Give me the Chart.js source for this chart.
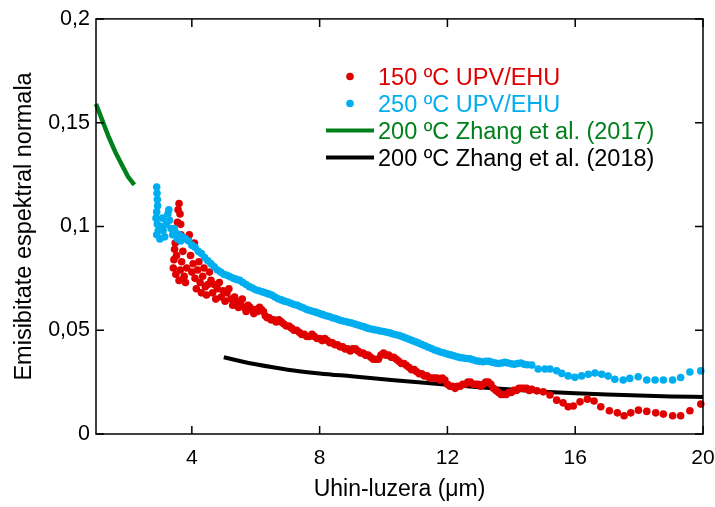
<!DOCTYPE html>
<html>
<head>
<meta charset="utf-8">
<script src="https://cdn.jsdelivr.net/npm/chart.js@4/dist/chart.umd.min.js"></script>
<style>
  html, body { margin: 0; padding: 0; background: #fff; }
  #wrap { width: 715px; height: 507px; }
</style>
</head>
<body>
<div id="wrap"><canvas id="emisChart"></canvas></div>
<script>
// values, [wavelength (um), emissivity]
const red150 = [
  [3.42, 0.080], [3.44, 0.084], [3.46, 0.089], [3.48, 0.092], [3.50, 0.077], [3.52, 0.086],
  [3.55, 0.102], [3.57, 0.108], [3.60, 0.111], [3.63, 0.106], [3.65, 0.101], [3.66, 0.096],
  [3.60, 0.074], [3.64, 0.079], [3.68, 0.083], [3.72, 0.088], [3.76, 0.076], [3.80, 0.073],
  [3.84, 0.080], [3.88, 0.094], [3.92, 0.096], [3.96, 0.086], [4.00, 0.078], [4.04, 0.082],
  [4.08, 0.092], [4.10, 0.075], [4.14, 0.070], [4.18, 0.079], [4.22, 0.083], [4.26, 0.073],
  [4.30, 0.068], [4.34, 0.076], [4.38, 0.080], [4.42, 0.071], [4.46, 0.067], [4.50, 0.072],
  [4.55, 0.078], [4.60, 0.074], [4.65, 0.068], [4.70, 0.072], [4.75, 0.065], [4.80, 0.070],
  [4.86, 0.073], [4.92, 0.066], [4.98, 0.069], [5.04, 0.064], [5.10, 0.068], [5.16, 0.070],
  [5.22, 0.065], [5.28, 0.062], [5.34, 0.066], [5.40, 0.064], [5.46, 0.061], [5.52, 0.063],
  [5.58, 0.065], [5.64, 0.061], [5.70, 0.059], [5.76, 0.062], [5.82, 0.061], [5.88, 0.060],
  [5.94, 0.058], [6.00, 0.060], [6.06, 0.059], [6.12, 0.061], [6.18, 0.060], [6.24, 0.059],
  [6.30, 0.057], [6.36, 0.056], [6.42, 0.056], [6.48, 0.055], [6.56, 0.055], [6.64, 0.054],
  [6.72, 0.055], [6.80, 0.054], [6.88, 0.053], [6.96, 0.052], [7.04, 0.052], [7.12, 0.051],
  [7.20, 0.050], [7.28, 0.050], [7.36, 0.049], [7.44, 0.048], [7.52, 0.048], [7.60, 0.047],
  [7.68, 0.047], [7.76, 0.048], [7.84, 0.047], [7.92, 0.046], [8.00, 0.046], [8.08, 0.045],
  [8.16, 0.046], [8.24, 0.045], [8.32, 0.044], [8.40, 0.044], [8.48, 0.043], [8.56, 0.043],
  [8.64, 0.042], [8.72, 0.042], [8.80, 0.041], [8.88, 0.041], [8.96, 0.040], [9.04, 0.041],
  [9.12, 0.041], [9.20, 0.040], [9.28, 0.039], [9.36, 0.039], [9.44, 0.038], [9.52, 0.038],
  [9.60, 0.037], [9.68, 0.036], [9.76, 0.036], [9.84, 0.036], [9.92, 0.038], [10.00, 0.039],
  [10.08, 0.038], [10.16, 0.038], [10.24, 0.037], [10.32, 0.037], [10.40, 0.036], [10.48, 0.035],
  [10.56, 0.034], [10.64, 0.034], [10.72, 0.033], [10.80, 0.032], [10.88, 0.031], [10.96, 0.031],
  [11.04, 0.030], [11.12, 0.029], [11.20, 0.029], [11.28, 0.028], [11.36, 0.028], [11.44, 0.027],
  [11.52, 0.027], [11.60, 0.027], [11.68, 0.027], [11.76, 0.026], [11.84, 0.027], [11.92, 0.026],
  [12.00, 0.024], [12.08, 0.023], [12.16, 0.023], [12.24, 0.022], [12.32, 0.023], [12.40, 0.023],
  [12.48, 0.024], [12.56, 0.024], [12.64, 0.025], [12.72, 0.025], [12.80, 0.024], [12.88, 0.024],
  [12.96, 0.024], [13.04, 0.023], [13.12, 0.024], [13.20, 0.025], [13.28, 0.025], [13.36, 0.024],
  [13.44, 0.022], [13.52, 0.021], [13.60, 0.020], [13.68, 0.019], [13.76, 0.019], [13.84, 0.019],
  [13.92, 0.020], [14.00, 0.020], [14.08, 0.021], [14.16, 0.021], [14.24, 0.022], [14.32, 0.022],
  [14.40, 0.022], [14.48, 0.022], [14.56, 0.021],
  [14.64, 0.0215], [14.80, 0.0208], [15.00, 0.0203], [15.21, 0.0188], [15.42, 0.0163],
  [15.62, 0.0150], [15.78, 0.0131], [15.94, 0.0135], [16.15, 0.0155], [16.38, 0.0168],
  [16.59, 0.0159], [16.80, 0.0131], [17.07, 0.0112], [17.32, 0.0102], [17.53, 0.0088],
  [17.74, 0.0102], [17.98, 0.0115], [18.24, 0.0109], [18.52, 0.0102], [18.76, 0.0096],
  [19.05, 0.0088], [19.30, 0.0088], [19.59, 0.0112], [19.93, 0.0144]
];

const blue250 = [
  [2.90, 0.119], [2.91, 0.116], [2.92, 0.113], [2.93, 0.110], [2.90, 0.107], [2.88, 0.104],
  [2.92, 0.101], [2.95, 0.098], [2.90, 0.096], [3.00, 0.094], [3.05, 0.100], [3.08, 0.104],
  [3.10, 0.098], [3.15, 0.095], [3.20, 0.101], [3.25, 0.106], [3.28, 0.108], [3.30, 0.103],
  [3.35, 0.099], [3.40, 0.096], [3.45, 0.099], [3.50, 0.097], [3.55, 0.094], [3.60, 0.096],
  [3.65, 0.093], [3.70, 0.095], [3.80, 0.094], [3.90, 0.093], [4.00, 0.091], [4.10, 0.090],
  [4.20, 0.088], [4.30, 0.087], [4.40, 0.085], [4.50, 0.0835], [4.60, 0.082], [4.70, 0.0805],
  [4.80, 0.079], [4.90, 0.078], [5.00, 0.077], [5.10, 0.0765], [5.20, 0.0758], [5.30, 0.075],
  [5.40, 0.0745], [5.50, 0.074], [5.60, 0.073], [5.70, 0.072], [5.80, 0.071], [5.90, 0.0703],
  [6.00, 0.0695], [6.10, 0.069], [6.20, 0.0685], [6.30, 0.068], [6.40, 0.0675], [6.50, 0.067],
  [6.60, 0.066], [6.70, 0.0652], [6.80, 0.0646], [6.90, 0.064], [7.00, 0.0636], [7.10, 0.063],
  [7.20, 0.0624], [7.30, 0.062], [7.40, 0.0613], [7.50, 0.0607], [7.60, 0.060], [7.70, 0.0595],
  [7.80, 0.059], [7.90, 0.0586], [8.00, 0.058], [8.10, 0.0575], [8.20, 0.057], [8.30, 0.0566],
  [8.40, 0.056], [8.50, 0.0556], [8.60, 0.055], [8.70, 0.0546], [8.80, 0.0542], [8.90, 0.0538],
  [9.00, 0.0535], [9.10, 0.053], [9.20, 0.0525], [9.30, 0.052], [9.40, 0.0516], [9.50, 0.051],
  [9.60, 0.0506], [9.70, 0.0503], [9.80, 0.050], [9.90, 0.0496], [10.00, 0.0494], [10.10, 0.049],
  [10.20, 0.0487], [10.30, 0.0482], [10.40, 0.0478], [10.50, 0.0474], [10.60, 0.0468], [10.70, 0.0462],
  [10.80, 0.0456], [10.90, 0.045], [11.00, 0.0444], [11.10, 0.0438], [11.20, 0.0431], [11.30, 0.0425],
  [11.40, 0.0418], [11.50, 0.0412], [11.60, 0.0405], [11.70, 0.040], [11.80, 0.0394], [11.90, 0.039],
  [12.00, 0.0385], [12.10, 0.0381], [12.20, 0.0377], [12.30, 0.0372], [12.40, 0.0368], [12.50, 0.0366],
  [12.60, 0.0364], [12.70, 0.0362], [12.80, 0.0358], [12.90, 0.0353], [13.00, 0.035], [13.10, 0.0348],
  [13.20, 0.0350], [13.30, 0.0350], [13.40, 0.0346], [13.50, 0.0342], [13.60, 0.034], [13.70, 0.0342],
  [13.80, 0.0345], [13.90, 0.0342], [14.00, 0.0338], [14.10, 0.0336], [14.20, 0.034], [14.30, 0.0342],
  [14.40, 0.0336], [14.50, 0.0334],
  [14.64, 0.0332], [14.84, 0.0313], [15.05, 0.0313], [15.21, 0.0313], [15.42, 0.0305],
  [15.58, 0.0292], [15.78, 0.0280], [15.99, 0.0273], [16.20, 0.0280], [16.41, 0.0288],
  [16.62, 0.0294], [16.83, 0.0288], [17.03, 0.0279], [17.24, 0.0264], [17.50, 0.0260],
  [17.71, 0.0268], [17.97, 0.0276], [18.24, 0.0260], [18.50, 0.0260], [18.76, 0.0260],
  [19.05, 0.0260], [19.30, 0.0272], [19.59, 0.0299], [19.93, 0.0304]
];

const zhang2017 = [
  [1.0, 0.159], [1.2, 0.151], [1.4, 0.143], [1.6, 0.136], [1.8, 0.130], [2.0, 0.124], [2.2, 0.120]
];

const zhang2018 = [
  [5.0, 0.0370], [5.5, 0.0352], [6.0, 0.0336], [7.0, 0.0310], [8.0, 0.0292], [9.0, 0.0278],
  [10.0, 0.0264], [11.0, 0.0250], [12.0, 0.0237], [13.0, 0.0225], [14.0, 0.0214], [15.0, 0.0204],
  [16.0, 0.0196], [17.0, 0.0190], [18.0, 0.0185], [19.0, 0.0181], [20.0, 0.0178]
];

const seriesLabels = ["150 ºC UPV/EHU", "250 ºC UPV/EHU", "200 ºC Zhang et al. (2017)", "200 ºC Zhang et al. (2018)"];
const xTicks = [4, 8, 12, 16, 20];
const yTicks = [0, 0.05, 0.1, 0.15, 0.2];

const RED = "#e00000", BLUE = "#00aeef", GREEN = "#00801a", BLACK = "#000000";
const FONT = "'Liberation Sans', Arial, sans-serif";

function pts(arr) { return arr.map(p => ({ x: p[0], y: p[1] })); }

// box + inward ticks on all four sides
const frameTicks = {
  id: "frameTicks",
  afterDraw(chart) {
    const { ctx, chartArea: a, scales } = chart;
    ctx.save();
    ctx.strokeStyle = "#000";
    ctx.lineWidth = 1.5;
    ctx.strokeRect(a.left, a.top, a.right - a.left, a.bottom - a.top);
    ctx.beginPath();
    xTicks.forEach(v => {
      const px = scales.x.getPixelForValue(v);
      ctx.moveTo(px, a.bottom); ctx.lineTo(px, a.bottom - 8);
      ctx.moveTo(px, a.top); ctx.lineTo(px, a.top + 8);
    });
    yTicks.forEach(v => {
      const py = scales.y.getPixelForValue(v);
      ctx.moveTo(a.left, py); ctx.lineTo(a.left + 8, py);
      ctx.moveTo(a.right, py); ctx.lineTo(a.right - 8, py);
    });
    ctx.stroke();
    ctx.restore();
  }
};

// legend inside the plot, text coloured like its series
const insideLegend = {
  id: "insideLegend",
  afterDraw(chart) {
    const ctx = chart.ctx;
    const x0 = 326, x1 = 374, tx = 378, base = 85, step = 27;
    ctx.save();
    ctx.font = "23.5px " + FONT;
    ctx.textBaseline = "alphabetic";
    chart.data.datasets.forEach((ds, i) => {
      const y = base + i * step;
      const mid = y - 8.5;
      const col = ds.showLine ? ds.borderColor : ds.backgroundColor;
      if (ds.showLine) {
        ctx.strokeStyle = col;
        ctx.lineWidth = 4;
        ctx.beginPath(); ctx.moveTo(x0, mid); ctx.lineTo(x1, mid); ctx.stroke();
      } else {
        ctx.fillStyle = col;
        ctx.beginPath(); ctx.arc(350, mid, 3.8, 0, Math.PI * 2); ctx.fill();
      }
      ctx.fillStyle = col;
      ctx.fillText(ds.label, tx, y);
    });
    ctx.restore();
  }
};

new Chart(document.getElementById("emisChart"), {
  type: "scatter",
  data: {
    datasets: [
      { label: seriesLabels[0], data: pts(red150), showLine: false, pointRadius: 3.8, pointBorderWidth: 0,
        backgroundColor: RED, borderColor: RED, order: 1 },
      { label: seriesLabels[1], data: pts(blue250), showLine: false, pointRadius: 3.8, pointBorderWidth: 0,
        backgroundColor: BLUE, borderColor: BLUE, order: 0 },
      { label: seriesLabels[2], data: pts(zhang2017), showLine: true, pointRadius: 0, borderWidth: 4.5,
        borderColor: GREEN, backgroundColor: GREEN, order: 3 },
      { label: seriesLabels[3], data: pts(zhang2018), showLine: true, pointRadius: 0, borderWidth: 4,
        borderColor: BLACK, backgroundColor: BLACK, cubicInterpolationMode: "monotone", order: 2 }
    ]
  },
  options: {
    responsive: true,
    maintainAspectRatio: false,
    animation: false,
    clip: false,
    layout: { padding: { top: 18, right: 12, left: 0, bottom: 0 } },
    plugins: { legend: { display: false }, tooltip: { enabled: false } },
    scales: {
      x: {
        type: "linear", min: 1, max: 20,
        grid: { display: false, drawTicks: false },
        border: { display: false },
        afterBuildTicks: s => { s.ticks = xTicks.map(v => ({ value: v })); },
        afterFit: s => { s.height = 73; s.paddingLeft = 0; s.paddingRight = 0; },
        ticks: { color: "#000", padding: 12, font: { family: FONT, size: 21 } },
        title: { display: true, text: "Uhin-luzera (μm)", color: "#000",
          padding: { top: 0, bottom: 4 }, font: { family: FONT, size: 23 } }
      },
      y: {
        type: "linear", min: 0, max: 0.2,
        grid: { display: false, drawTicks: false },
        border: { display: false },
        afterBuildTicks: s => { s.ticks = yTicks.map(v => ({ value: v })); },
        afterFit: s => { s.width = 96; },
        ticks: { color: "#000", padding: 6, font: { family: FONT, size: 21.5 },
          callback: v => String(v).replace(".", ",") },
        title: { display: true, text: "Emisibitate espektral normala", color: "#000",
          padding: { top: 10, bottom: 0 }, font: { family: FONT, size: 23.5 } }
      }
    }
  },
  plugins: [frameTicks, insideLegend]
});
</script>
</body>
</html>
